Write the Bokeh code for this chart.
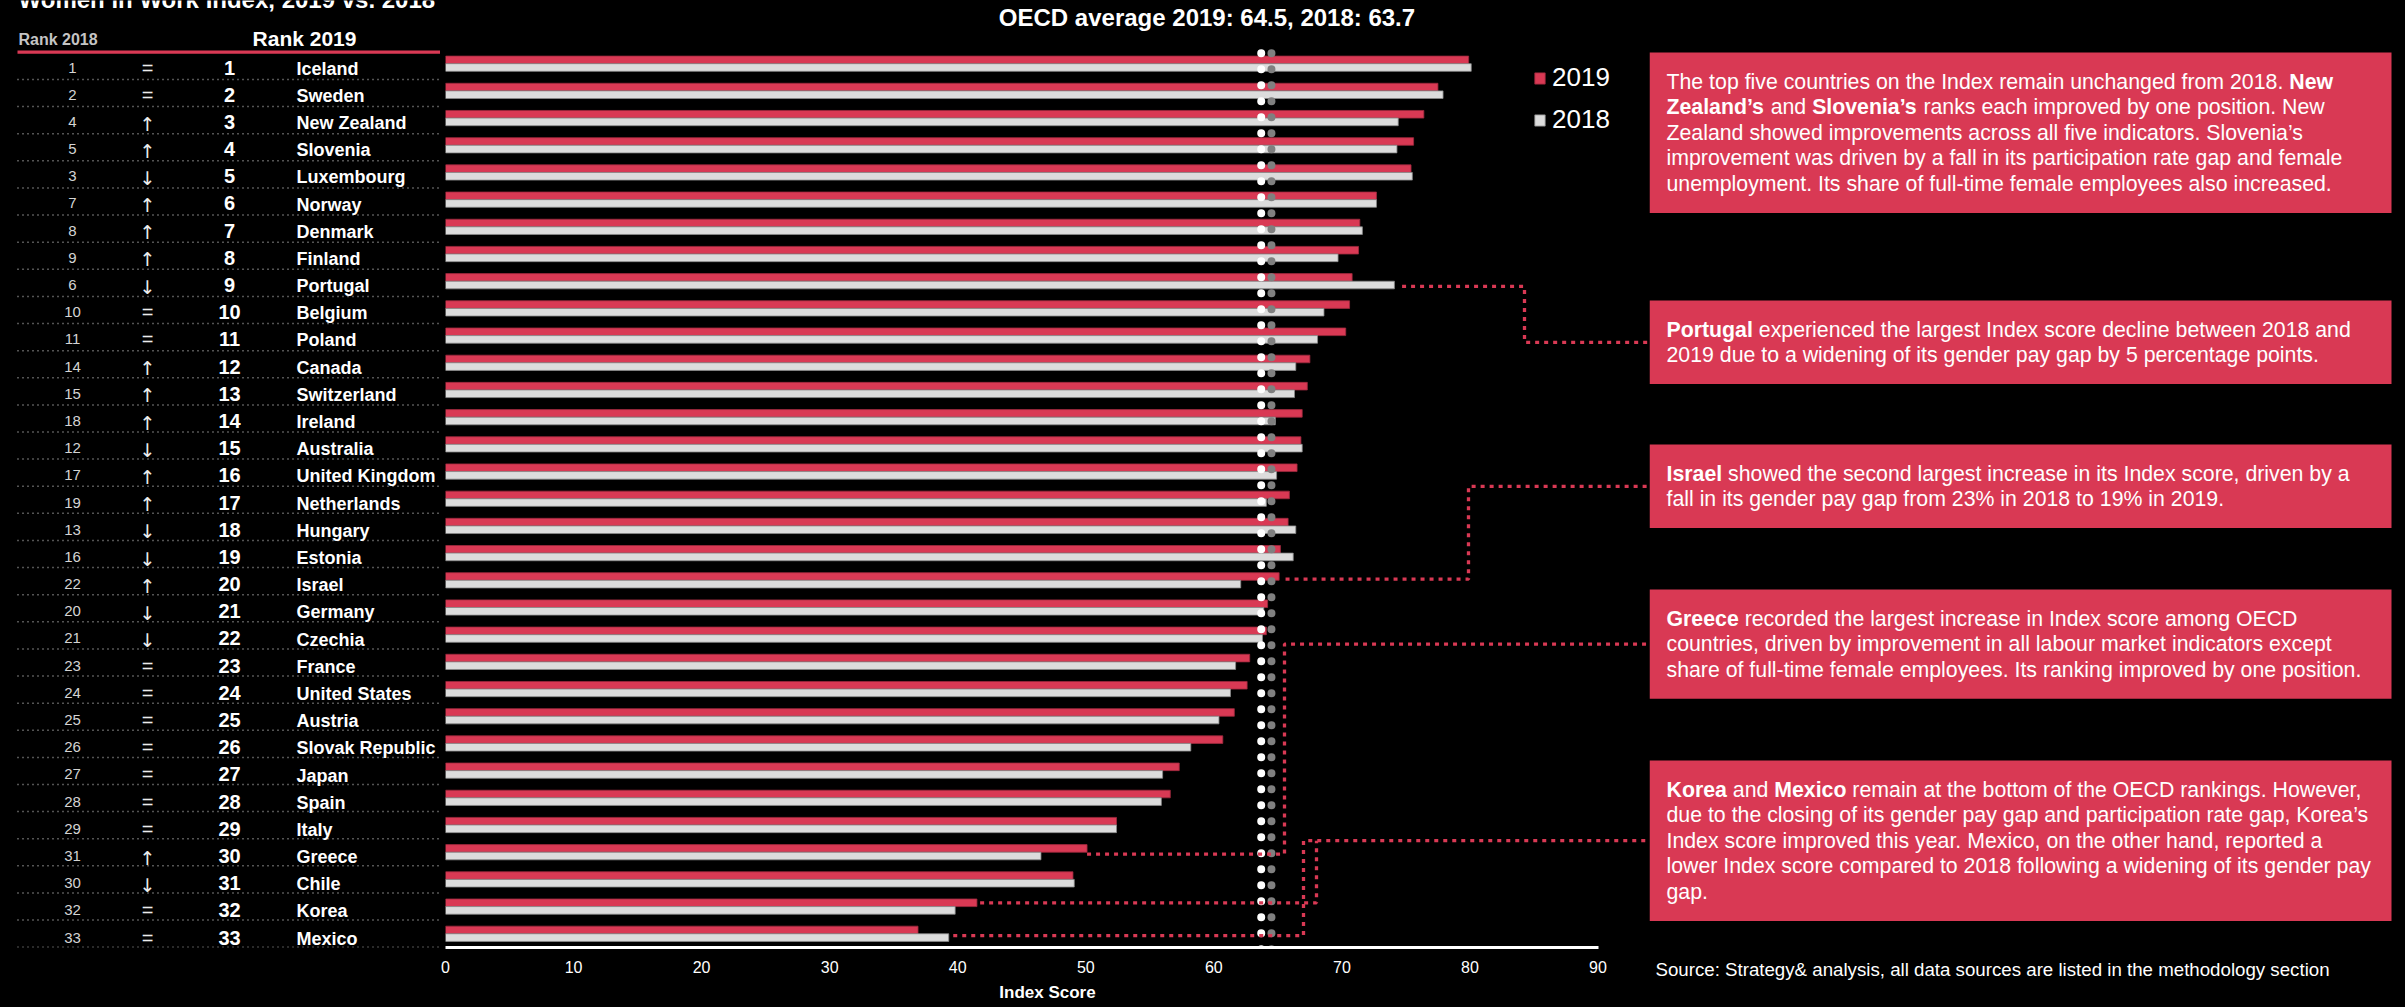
from bokeh.plotting import figure
from bokeh.models import ColumnDataSource, Range1d, FixedTicker, Legend, LegendItem
from bokeh.layouts import row
from bokeh.core.properties import value
from bokeh.embed import file_html
from bokeh.resources import INLINE

# ---------------- data ----------------
countries = ["Iceland", "Sweden", "New Zealand", "Slovenia", "Luxembourg", "Norway", "Denmark",
             "Finland", "Portugal", "Belgium", "Poland", "Canada", "Switzerland", "Ireland",
             "Australia", "United Kingdom", "Netherlands", "Hungary", "Estonia", "Israel",
             "Germany", "Czechia", "France", "United States", "Austria", "Slovak Republic",
             "Japan", "Spain", "Italy", "Greece", "Chile", "Korea", "Mexico"]
rank_2019 = list(range(1, 34))
rank_2018 = [1, 2, 4, 5, 3, 7, 8, 9, 6, 10, 11, 14, 15, 18, 12, 17, 19, 13, 16, 22,
             20, 21, 23, 24, 25, 26, 27, 28, 29, 31, 30, 32, 33]
score_2019 = [79.9, 77.5, 76.4, 75.6, 75.4, 72.7, 71.4, 71.3, 70.8, 70.6, 70.3, 67.5, 67.3,
              66.9, 66.8, 66.5, 65.9, 65.8, 65.2, 65.1, 64.2, 64.1, 62.8, 62.6, 61.6, 60.7,
              57.3, 56.6, 52.4, 50.1, 49.0, 41.5, 36.9]
score_2018 = [80.1, 77.9, 74.4, 74.3, 75.5, 72.7, 71.6, 69.7, 74.1, 68.6, 68.1, 66.4, 66.3,
              64.8, 66.9, 64.9, 64.1, 66.4, 66.2, 62.1, 63.9, 63.8, 61.7, 61.3, 60.4, 58.2,
              56.0, 55.9, 52.4, 46.5, 49.1, 39.8, 39.3]
oecd_avg_2019 = 64.5
oecd_avg_2018 = 63.7
x_ticks = [0, 10, 20, 30, 40, 50, 60, 70, 80, 90]

box_texts = [
    ["The top five countries on the Index remain unchanged from 2018. **New**",
     "**Zealand\u2019s** and **Slovenia\u2019s** ranks each improved by one position. New",
     "Zealand showed improvements across all five indicators. Slovenia\u2019s",
     "improvement was driven by a fall in its participation rate gap and female",
     "unemployment. Its share of full-time female employees also increased."],
    ["**Portugal** experienced the largest Index score decline between 2018 and",
     "2019 due to a widening of its gender pay gap by 5 percentage points."],
    ["**Israel** showed the second largest increase in its Index score, driven by a",
     "fall in its gender pay gap from 23% in 2018 to 19% in 2019."],
    ["**Greece** recorded the largest increase in Index score among OECD",
     "countries, driven by improvement in all labour market indicators except",
     "share of full-time female employees. Its ranking improved by one position."],
    ["**Korea** and **Mexico** remain at the bottom of the OECD rankings. However,",
     "due to the closing of its gender pay gap and participation rate gap, Korea\u2019s",
     "Index score improved this year. Mexico, on the other hand, reported a",
     "lower Index score compared to 2018 following a widening of its gender pay",
     "gap."],
]
source_text = "Source: Strategy& analysis, all data sources are listed in the methodology section"

# ---------------- layout constants (picture pixels) ----------------
H = 1007
Y0 = 63.2        # picture y between the two bars of row 0
PITCH = 27.19    # px per row
AXIS_PY = 947
BORDER_B = H - AXIS_PY
FRAME_L = 445
PX_UNIT = (1597.5 - FRAME_L) / 90.0
BOX_L, BOX_R = 1649, 2391
TABLE_W = 440
BAR_W = BOX_L - TABLE_W
RIGHT_W = 2405 - BOX_L

RED = "#d93954"
GREY = "#dcdcdc"
FONT = "Liberation Sans"
F = value(FONT)


def row_of(py):
    return (py - Y0) / PITCH


def val_of(px):
    return (px - FRAME_L) / PX_UNIT


_chars = (" !\"#$%&'()*+,-./0123456789:;<=>?@ABCDEFGHIJKLMNOPQRSTUVWXYZ[\\]^_`"
          "abcdefghijklmnopqrstuvwxyz{|}~")
_REG = dict(zip(_chars,
    [278, 278, 355, 556, 556, 889, 667, 191, 333, 333, 389, 584, 278, 333, 278, 278] + [556] * 10 +
    [278, 278, 584, 584, 584, 556, 1015,
     667, 667, 722, 722, 667, 611, 778, 722, 278, 500, 667, 556, 833, 722, 778, 667, 778, 722, 667,
     611, 722, 667, 944, 667, 667, 611,
     278, 278, 278, 469, 556, 333,
     556, 556, 500, 556, 556, 278, 556, 556, 222, 222, 500, 222, 833, 556, 556, 556, 556, 333, 500,
     278, 556, 500, 722, 500, 500, 500,
     334, 260, 334, 584]))
_BOLD = dict(zip(_chars,
    [278, 333, 474, 556, 556, 889, 722, 238, 333, 333, 389, 584, 278, 333, 278, 278] + [556] * 10 +
    [333, 333, 584, 584, 584, 611, 975,
     722, 722, 722, 722, 667, 611, 778, 722, 278, 556, 722, 611, 833, 722, 778, 667, 778, 722, 667,
     611, 722, 667, 944, 667, 667, 611,
     333, 278, 333, 584, 556, 333,
     556, 611, 556, 611, 556, 333, 611, 611, 278, 278, 556, 278, 889, 611, 611, 611, 611, 389, 556,
     333, 611, 556, 778, 556, 556, 500,
     389, 280, 389, 584]))
_REG["\u2019"] = 222
_BOLD["\u2019"] = 278


def tw(s, bold, size):
    tb = _BOLD if bold else _REG
    return sum(tb.get(c, 556) for c in s) * size / 1000.0


idx = list(range(len(countries)))
common = dict(height=H, output_backend="svg", toolbar_location=None,
              background_fill_color="black", border_fill_color="black", outline_line_color=None,
              min_border_top=0, min_border_bottom=BORDER_B)

# ---------------- left table ----------------
t = figure(width=TABLE_W, x_range=Range1d(0, TABLE_W),
           y_range=Range1d(row_of(AXIS_PY), row_of(0)),
           x_axis_location=None, y_axis_location=None,
           min_border_left=0, min_border_right=0, **common)
t.grid.visible = False

symbols = ["=" if a == b else ("\u2191" if b < a else "\u2193") for a, b in zip(rank_2018, rank_2019)]
tsrc = ColumnDataSource(dict(
    r18=[str(v) for v in rank_2018], r19=[str(v) for v in rank_2019], sym=symbols,
    name=countries,
    yn=[i + 0.14 for i in idx], yc=[i + 0.18 for i in idx], ya=[i + 0.2 for i in idx],
    ysep=[row_of(79 + 27.115 * i) for i in idx]))
eq_src = ColumnDataSource({k: [v for v, s in zip(col, symbols) if s == "="]
                           for k, col in tsrc.data.items()})
ar_src = ColumnDataSource({k: [v for v, s in zip(col, symbols) if s != "="]
                           for k, col in tsrc.data.items()})

t.text(x=18, y=row_of(-0.6), text=["Women in Work Index, 2019 vs. 2018"], text_font=F,
       text_font_style="bold", text_font_size="24px", text_color="white",
       text_baseline="middle", text_align="left")
t.text(x=18, y=row_of(39), text=["Rank 2018"], text_font=F, text_font_style="bold",
       text_font_size="16px", text_color="#c4c4c4", text_baseline="middle", text_align="left")
t.text(x=304, y=row_of(38), text=["Rank 2019"], text_font=F, text_font_style="bold",
       text_font_size="21px", text_color="white", text_baseline="middle", text_align="center")
t.segment(x0=17, x1=TABLE_W, y0=row_of(51.7), y1=row_of(51.7),
          line_color=RED, line_width=3.3)
t.segment(x0=17, x1=TABLE_W, y0="ysep", y1="ysep", source=tsrc,
          line_color="#a8a8a8", line_width=1.5, line_dash="1 4")
t.text(x=72, y="yn", text="r18", source=tsrc, text_font=F, text_font_size="15px",
       text_color="#d4d4d4", text_baseline="middle", text_align="center")
t.text(x=147, y="yn", text="sym", source=eq_src, text_font=F, text_font_size="20px",
       text_color="#ececec", text_baseline="middle", text_align="center")
t.text(x=147, y="ya", text="sym", source=ar_src, text_font=value("DejaVu Sans"),
       text_font_size="19px", text_color="#ececec", text_baseline="middle", text_align="center")
t.text(x=229, y="yn", text="r19", source=tsrc, text_font=F, text_font_style="bold",
       text_font_size="20px", text_color="white", text_baseline="middle", text_align="center")
t.text(x=296, y="yc", text="name", source=tsrc, text_font=F, text_font_style="bold",
       text_font_size="18px", text_color="white", text_baseline="middle", text_align="left")

# ---------------- bar chart ----------------
x_end = val_of(BOX_L)
p = figure(width=BAR_W, x_range=Range1d(0, x_end),
           y_range=Range1d(row_of(AXIS_PY), row_of(0)),
           y_axis_location=None, min_border_left=FRAME_L - TABLE_W, min_border_right=0,
           **common)
p.grid.visible = False

bsrc = ColumnDataSource(dict(country=countries, s19=score_2019, s18=score_2018,
                             y19=[i - 0.14 for i in idx], y18=[i + 0.14 for i in idx]))
r19 = p.hbar(y="y19", left=0, right="s19", height=0.28, source=bsrc,
             fill_color=RED, line_color="#9e2a3e", line_width=0.8)
r18 = p.hbar(y="y18", left=0, right="s18", height=0.28, source=bsrc,
             fill_color=GREY, line_color="#8a8a8a", line_width=0.8)

# OECD averages as dotted lines
p.segment(x0=[oecd_avg_2018], x1=[oecd_avg_2018], y0=[row_of(52.7)], y1=[row_of(955)],
          line_color="white", line_width=8, line_dash="0 16", line_cap="round")
p.segment(x0=[oecd_avg_2019], x1=[oecd_avg_2019], y0=[row_of(52.7)], y1=[row_of(955)],
          line_color="#808080", line_width=8, line_dash="0 16", line_cap="round")

p.text(x=[val_of(1206.5)], y=[row_of(17)],
       text=[f"OECD average 2019: {oecd_avg_2019}, 2018: {oecd_avg_2018}"],
       text_font=F, text_font_style="bold", text_font_size="24px", text_color="white",
       text_align="center", text_baseline="middle")

# callout boxes geometry (picture px)
LINE_H = 25.6
box_tops = [52, 300, 444, 589, 760]
box_bottoms = [top + 58 + (len(lines) - 1) * LINE_H for top, lines in zip(box_tops, box_texts)]
box_mid = [(a + b) / 2 for a, b in zip(box_tops, box_bottoms)]

# connectors: (row, start value, y offset, elbow value, box, has tail)
conn = [
    (8, score_2018[8] + 0.6, 0.19, val_of(1524), 1, True),
    (19, score_2019[19] + 0.5, -0.04, val_of(1468), 2, True),
    (29, score_2019[29], 0.07, val_of(1284), 3, True),
    (31, score_2019[31] + 0.25, -0.14, val_of(1316), 4, False),
    (32, score_2018[32] + 0.35, 0.07, val_of(1303), 4, True),
]
xs, ys = [], []
for r_i, x0, off, xe, b, tail in conn:
    yr = r_i + off
    yt = row_of(box_mid[b])
    xx = [x0, xe, xe]
    yy = [yr, yr, yt]
    if tail:
        xx.append(x_end)
        yy.append(yt)
    xs.append(xx)
    ys.append(yy)
p.multi_line(xs=xs, ys=ys, line_color=RED, line_width=3.3, line_dash="4 5")

ax = p.xaxis[0]
ax.ticker = FixedTicker(ticks=x_ticks)
ax.bounds = (0, 90)
ax.axis_line_color = "white"
ax.axis_line_width = 3
ax.major_tick_line_color = None
ax.minor_tick_line_color = None
ax.major_tick_out = 0
ax.major_tick_in = 0
ax.major_label_text_color = "white"
ax.major_label_text_font = FONT
ax.major_label_text_font_size = "16px"
ax.major_label_standoff = 13
ax.axis_label = "Index Score"
ax.axis_label_text_font = FONT
ax.axis_label_text_font_style = "bold"
ax.axis_label_text_font_size = "17px"
ax.axis_label_text_color = "white"
ax.axis_label_standoff = 7

legend = Legend(items=[LegendItem(label="2019", renderers=[r19]),
                       LegendItem(label="2018", renderers=[r18])],
                location=(1533 - FRAME_L, AXIS_PY - 135),
                label_text_font=FONT, label_text_font_size="26px", label_text_color="white",
                background_fill_alpha=0, border_line_color=None, padding=0, margin=0,
                spacing=11, glyph_width=13, glyph_height=14, label_height=30, label_standoff=6)
p.add_layout(legend)

# ---------------- right panel ----------------
r = figure(width=RIGHT_W, x_range=Range1d(BOX_L, BOX_L + RIGHT_W),
           y_range=Range1d(AXIS_PY, 0), y_axis_location=None,
           min_border_left=0, min_border_right=0, **common)
r.grid.visible = False
r.quad(left=BOX_L, right=BOX_R, top=box_tops, bottom=box_bottoms, fill_color=RED, line_color=None)

FS = 21.3
TX = 1666
norm = dict(x=[], y=[], text=[])
bold = dict(x=[], y=[], text=[])
for top, lines in zip(box_tops, box_texts):
    for k, line in enumerate(lines):
        yy = top + 29 + k * LINE_H
        cx = TX
        for j, part in enumerate(line.split("**")):
            if not part:
                continue
            is_b = (j % 2 == 1)
            lead = len(part) - len(part.lstrip(" "))
            cx += tw(" " * lead, is_b, FS)
            d = bold if is_b else norm
            d["x"].append(cx)
            d["y"].append(yy)
            d["text"].append(part.strip(" "))
            cx += tw(part.lstrip(" "), is_b, FS)
r.text(x="x", y="y", text="text", source=ColumnDataSource(norm), text_font=F,
       text_font_size=f"{FS}px", text_color="white", text_baseline="middle", text_align="left")
r.text(x="x", y="y", text="text", source=ColumnDataSource(bold), text_font=F,
       text_font_style="bold", text_font_size=f"{FS}px", text_color="white",
       text_baseline="middle", text_align="left")

# source note sits under the panel, as the label of its bottom axis
SRC_FS = 18.7
src_center = int(round(1655 + tw(source_text, False, SRC_FS) / 2))
rax = r.xaxis[0]
rax.ticker = FixedTicker(ticks=[src_center])
rax.major_label_overrides = {src_center: source_text}
rax.axis_line_color = None
rax.major_tick_line_color = None
rax.minor_tick_line_color = None
rax.major_tick_out = 0
rax.major_tick_in = 0
rax.major_label_text_color = "white"
rax.major_label_text_font = FONT
rax.major_label_text_font_size = f"{SRC_FS}px"
rax.major_label_standoff = 11

layout = row(t, p, r, styles={"background-color": "#000000"})
open("out.html", "w").write(file_html(layout, INLINE))
